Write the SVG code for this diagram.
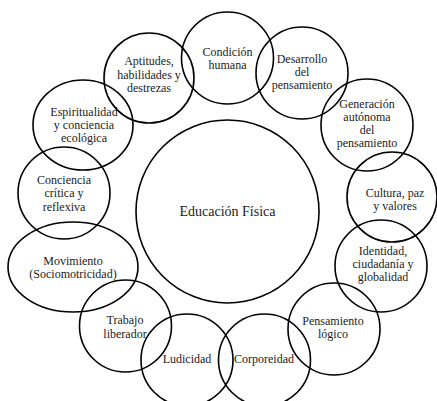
<svg xmlns="http://www.w3.org/2000/svg" width="437" height="401" viewBox="0 0 437 401">
<style>
.c{fill:none;stroke:#000;stroke-width:1.6}
text{font-family:"Liberation Serif","Times New Roman",serif;font-size:12px;fill:#222;text-anchor:middle}
.big{font-size:14px}
</style>
<rect width="437" height="401" fill="#fff"/>
<g id="connectors"></g>
<g id="n-educacion"><circle class="c" cx="227.5" cy="211.5" r="91.5"/><text class="big" x="227.5" y="216">Educación Física</text></g>
<g id="n-condicion"><circle class="c" cx="227.5" cy="58" r="46"/><text x="227.5" y="56">Condición</text><text x="227.5" y="69">humana</text></g>
<g id="n-desarrollo"><circle class="c" cx="302" cy="73" r="46"/><text x="302" y="63">Desarrollo</text><text x="302" y="76">del</text><text x="302" y="89">pensamiento</text></g>
<g id="n-generacion"><circle class="c" cx="367" cy="125" r="46"/><text x="367" y="108">Generación</text><text x="367" y="121">autónoma</text><text x="367" y="134">del</text><text x="367" y="147">pensamiento</text></g>
<g id="n-cultura"><circle class="c" cx="392" cy="197" r="45"/><text x="395" y="197">Cultura, paz</text><text x="395" y="210">y valores</text></g>
<g id="n-identidad"><circle class="c" cx="381" cy="266" r="46"/><text x="383" y="255">Identidad,</text><text x="383" y="268">ciudadanía y</text><text x="383" y="281">globalidad</text></g>
<g id="n-pensamiento"><circle class="c" cx="334" cy="329" r="46"/><text x="333" y="325">Pensamiento</text><text x="333" y="338">lógico</text></g>
<g id="n-corporeidad"><circle class="c" cx="264.5" cy="360" r="46"/><text x="264" y="363">Corporeidad</text></g>
<g id="n-ludicidad"><circle class="c" cx="187" cy="360" r="46"/><text x="187" y="363">Ludicidad</text></g>
<g id="n-trabajo"><circle class="c" cx="125.5" cy="326" r="46"/><text x="125" y="324">Trabajo</text><text x="125" y="338">liberador</text></g>
<g id="n-movimiento"><ellipse class="c" cx="73" cy="267" rx="65" ry="45"/><text x="73" y="265">Movimiento</text><text x="73" y="278">(Sociomotricidad)</text></g>
<g id="n-conciencia"><circle class="c" cx="64" cy="193" r="46"/><text x="64" y="184">Conciencia</text><text x="64" y="197">crítica y</text><text x="64" y="210.5">reflexiva</text></g>
<g id="n-espiritualidad"><ellipse class="c" cx="83" cy="125" rx="50" ry="45"/><text x="84" y="116">Espiritualidad</text><text x="84" y="129">y conciencia</text><text x="84" y="142">ecológica</text></g>
<g id="n-aptitudes"><circle class="c" cx="149" cy="78" r="45"/><text x="149" y="65">Aptitudes,</text><text x="149" y="79">habilidades y</text><text x="149" y="92">destrezas</text></g>
</svg>
